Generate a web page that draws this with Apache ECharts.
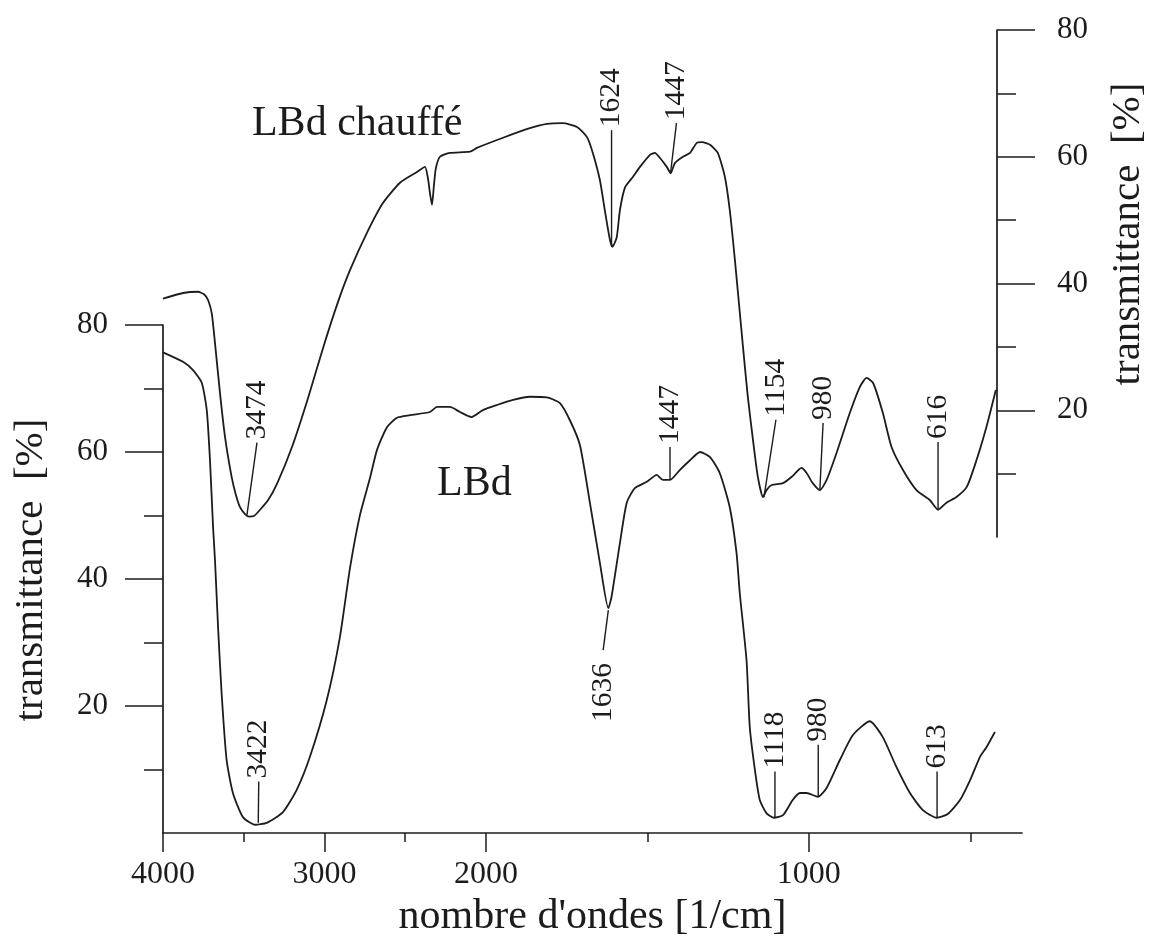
<!DOCTYPE html>
<html>
<head>
<meta charset="utf-8">
<script src="https://cdn.jsdelivr.net/npm/echarts@6/dist/echarts.min.js"></script>
<style>html,body{margin:0;padding:0;background:#fff}#c{width:1149px;height:938px}</style>
</head>
<body>
<div id="c"></div>
<script>
// ---- data ----
const wavenumberLBd = [4000,3876,3814,3760,3729,3709,3690,3678,3659,3637,3606,3567,3505,3430,3358,3257,3172,3090,2986,2904,2842,2780,2718,2675,2613,2551,2471,2347,2303,2272,2223,2161,2089,2019,1966,1916,1864,1811,1771,1740,1709,1678,1647,1621,1611,1585,1564,1539,1502,1471,1452,1430,1399,1368,1337,1306,1276,1245,1224,1214,1193,1183,1167,1152,1131,1108,1080,1050,1028,1007,972,945,904,864,811,771,729,687,647,604,570,532,501,470,450,424];
const transLBd = [75.7,74.2,72.9,70.9,66.6,58.7,48.2,43.0,32.4,22.0,11.5,6.3,2.5,1.3,1.6,3.3,6.8,12.0,20.9,30.9,41.7,50.1,55.9,60.3,63.9,65.4,65.8,66.3,67.1,67.1,67.1,66.3,65.5,66.6,67.4,68.2,68.7,68.6,67.7,65.0,61.1,52.0,42.5,35.4,37.2,45.7,52.0,54.3,55.3,56.4,55.6,55.6,57.2,58.7,60.0,59.2,56.7,51.3,44.1,37.8,27.2,16.7,9.9,5.2,3.1,2.4,2.8,5.2,6.3,6.3,5.7,7.1,11.5,15.4,17.6,15.1,10.4,6.3,3.6,2.4,3.0,5.2,8.3,12.0,13.5,15.9];

const wavenumberChauffe = [4000,3876,3783,3746,3721,3698,3678,3647,3616,3575,3548,3523,3492,3467,3437,3399,3350,3294,3201,3102,3003,2916,2842,2737,2638,2532,2427,2378,2359,2347,2334,2322,2310,2285,2223,2099,2056,1947,1864,1811,1762,1718,1687,1669,1647,1632,1616,1608,1595,1585,1569,1545,1523,1492,1477,1461,1440,1428,1415,1390,1368,1347,1331,1306,1282,1260,1245,1229,1204,1189,1173,1158,1142,1131,1115,1080,1053,1023,1007,988,966,945,914,873,842,821,801,771,744,709,667,625,600,574,543,511,481,450,421];
const transChauffe = [37.6,38.5,38.7,38.3,37.4,35.3,30.6,22.7,15.8,9.5,6.6,4.7,3.6,3.2,3.3,4.3,5.8,8.4,14.2,21.9,30.3,37.1,42.1,48.0,52.7,55.9,57.6,58.4,56.6,54.3,52.4,55.5,58.2,60.0,60.6,60.8,61.4,63.0,64.5,65.2,65.3,64.7,63.1,60.6,56.3,51.6,46.9,45.8,47.3,51.6,55.2,56.8,58.4,60.3,60.6,59.8,58.4,57.4,59.0,60.0,60.6,62.2,62.3,61.9,60.6,56.8,51.6,43.7,30.0,22.1,15.3,9.5,6.3,7.4,8.2,8.5,9.5,10.9,10.1,8.5,7.4,9.0,13.3,19.6,23.7,25.1,24.3,19.6,14.2,10.6,7.4,5.8,4.3,5.4,6.3,7.9,12.1,17.4,23.2];

const xTickValues = [4000, 3000, 2000, 1000];
const xMinorTickValues = [3500, 2500, 1500, 500];
const xAxisEnd = 340;
const yTickValues = [20, 40, 60, 80];

// peak label, wavenumber/T at curve, wavenumber/T at leader end, side
const peaksLBd = [
  ['3422', 3410, 1.6, 3407, 8.1, 'up'],
  ['1636', 1621, 35.1, 1637, 28.8, 'down'],
  ['1447', 1430, 55.6, 1430, 60.8, 'up'],
  ['1118', 1105, 2.4, 1105, 9.7, 'up'],
  ['980', 971, 5.7, 971, 13.9, 'up'],
  ['613', 603, 2.4, 603, 9.7, 'up']
];
const peaksChauffe = [
  ['3474', 3480, 3.5, 3418, 14.9, 'up'],
  ['1624', 1611, 45.8, 1611, 64.2, 'up'],
  ['1447', 1428, 57.6, 1410, 65.3, 'up'],
  ['1154', 1139, 6.3, 1102, 18.5, 'up'],
  ['980', 966, 7.4, 956, 18.0, 'up'],
  ['616', 600, 4.3, 600, 15.0, 'up']
];
const nameLBd = ['LBd', 2303, 58.3];
const nameChauffe = ['LBd chauffé', 3449, 68.5];

// ---- scale: FTIR axis with a 2x expansion below 2000 cm-1 ----
function toT(w) { return w >= 2000 ? 4000 - w : 2000 + 2 * (2000 - w); }
function fromT(t) { return t <= 2000 ? 4000 - t : 2000 - (t - 2000) / 2; }
const tMax = toT(xAxisEnd);

const INK = '#1c1c1c';
const SERIF = '"Liberation Serif", "Times New Roman", serif';

function zip(ws, vs) { return ws.map((w, i) => [toT(w), vs[i]]); }

function peakRender(list) {
  return function (params, api) {
    const p = list[params.dataIndex];
    const a = api.coord([api.value(0), api.value(1)]);
    const b = api.coord([api.value(2), api.value(3)]);
    const up = p[5] === 'up';
    return {
      type: 'group',
      children: [
        { type: 'line', shape: { x1: a[0], y1: a[1], x2: b[0], y2: b[1] },
          style: { stroke: INK, lineWidth: 1.4 } },
        { type: 'text', x: b[0], y: b[1] + (up ? -3 : 13), rotation: Math.PI / 2,
          style: { text: p[0], font: '29.5px ' + SERIF, fill: INK,
                   align: up ? 'left' : 'right', verticalAlign: 'middle',
                   textAlign: up ? 'left' : 'right', textVerticalAlign: 'middle' } }
      ]
    };
  };
}
function nameRender(item) {
  return function (params, api) {
    const a = api.coord([api.value(0), api.value(1)]);
    return { type: 'text', x: a[0], y: a[1],
      style: { text: item[0], font: '42px ' + SERIF, fill: INK,
               align: 'left', verticalAlign: 'top', textAlign: 'left', textVerticalAlign: 'top' } };
  };
}

const chart = echarts.init(document.getElementById('c'), null, { renderer: 'canvas' });
const yAxisCommon = {
  type: 'value', min: 0, max: 80, interval: 20,
  splitLine: { show: false },
  axisLine: { show: true, onZero: false, lineStyle: { color: INK, width: 1.7 } },
  axisTick: { show: true, length: 38, customValues: yTickValues, lineStyle: { color: INK, width: 1.5 } },
  minorTick: { show: true, splitNumber: 2, length: 19, lineStyle: { color: INK, width: 1.5 } },
  minorSplitLine: { show: false },
  axisLabel: { customValues: yTickValues, color: INK, fontFamily: SERIF, fontSize: 31 },
  nameLocation: 'middle',
  name: 'transmittance  [%]',
  nameTextStyle: { color: INK, fontFamily: SERIF, fontSize: 41 }
};

chart.setOption({
  animation: false,
  backgroundColor: '#ffffff',
  grid: [
    { left: 163, right: 127, top: 325, bottom: 105, containLabel: false, outerBoundsMode: 'none' },
    { left: 163, right: 127, top: 30, bottom: 401, containLabel: false, outerBoundsMode: 'none' }
  ],
  xAxis: [
    { type: 'value', gridIndex: 0, min: 0, max: tMax, position: 'bottom',
      splitLine: { show: false },
      axisLine: { show: true, onZero: false, lineStyle: { color: INK, width: 1.7 } },
      axisTick: { show: true, length: 19, customValues: xTickValues.map(toT), lineStyle: { color: INK, width: 1.5 } },
      axisLabel: { customValues: xTickValues.map(toT), margin: 26, color: INK, fontFamily: SERIF, fontSize: 32,
                   formatter: v => String(Math.round(fromT(v))) },
      name: "nombre d'ondes [1/cm]", nameLocation: 'middle', nameGap: 55,
      nameTextStyle: { color: INK, fontFamily: SERIF, fontSize: 42 } },
    { type: 'value', gridIndex: 0, min: 0, max: tMax, position: 'bottom',
      splitLine: { show: false },
      axisLine: { show: false, onZero: false },
      axisTick: { show: true, length: 9, customValues: xMinorTickValues.map(toT), lineStyle: { color: INK, width: 1.5 } },
      axisLabel: { show: false } },
    { type: 'value', gridIndex: 1, min: 0, max: tMax, show: false }
  ],
  yAxis: [
    Object.assign({}, yAxisCommon, { gridIndex: 0, position: 'left', nameGap: 111,
      axisLabel: Object.assign({}, yAxisCommon.axisLabel, { margin: 55 }),
      nameTextStyle: Object.assign({}, yAxisCommon.nameTextStyle, { padding: [0, 0, 0, 18] }) }),
    Object.assign({}, yAxisCommon, { gridIndex: 1, position: 'right', offset: -25, nameGap: 111,
      axisLabel: Object.assign({}, yAxisCommon.axisLabel, { margin: 60 }),
      nameTextStyle: Object.assign({}, yAxisCommon.nameTextStyle, { padding: [0, 0, 0, 99] }) })
  ],
  series: [
    { name: 'LBd', type: 'line', xAxisIndex: 0, yAxisIndex: 0, data: zip(wavenumberLBd, transLBd),
      showSymbol: false, smooth: 0.2, lineStyle: { color: INK, width: 1.8 }, silent: true },
    { name: 'LBd chauffé', type: 'line', xAxisIndex: 2, yAxisIndex: 1, data: zip(wavenumberChauffe, transChauffe),
      showSymbol: false, smooth: 0.2, lineStyle: { color: INK, width: 1.8 }, silent: true },
    { type: 'custom', xAxisIndex: 0, yAxisIndex: 0, clip: false, silent: true,
      renderItem: peakRender(peaksLBd),
      data: peaksLBd.map(p => [toT(p[1]), p[2], toT(p[3]), p[4]]) },
    { type: 'custom', xAxisIndex: 2, yAxisIndex: 1, clip: false, silent: true,
      renderItem: peakRender(peaksChauffe),
      data: peaksChauffe.map(p => [toT(p[1]), p[2], toT(p[3]), p[4]]) },
    { type: 'custom', xAxisIndex: 0, yAxisIndex: 0, clip: false, silent: true,
      renderItem: nameRender(nameLBd), data: [[toT(nameLBd[1]), nameLBd[2]]] },
    { type: 'custom', xAxisIndex: 2, yAxisIndex: 1, clip: false, silent: true,
      renderItem: nameRender(nameChauffe), data: [[toT(nameChauffe[1]), nameChauffe[2]]] }
  ]
});
</script>
</body>
</html>
